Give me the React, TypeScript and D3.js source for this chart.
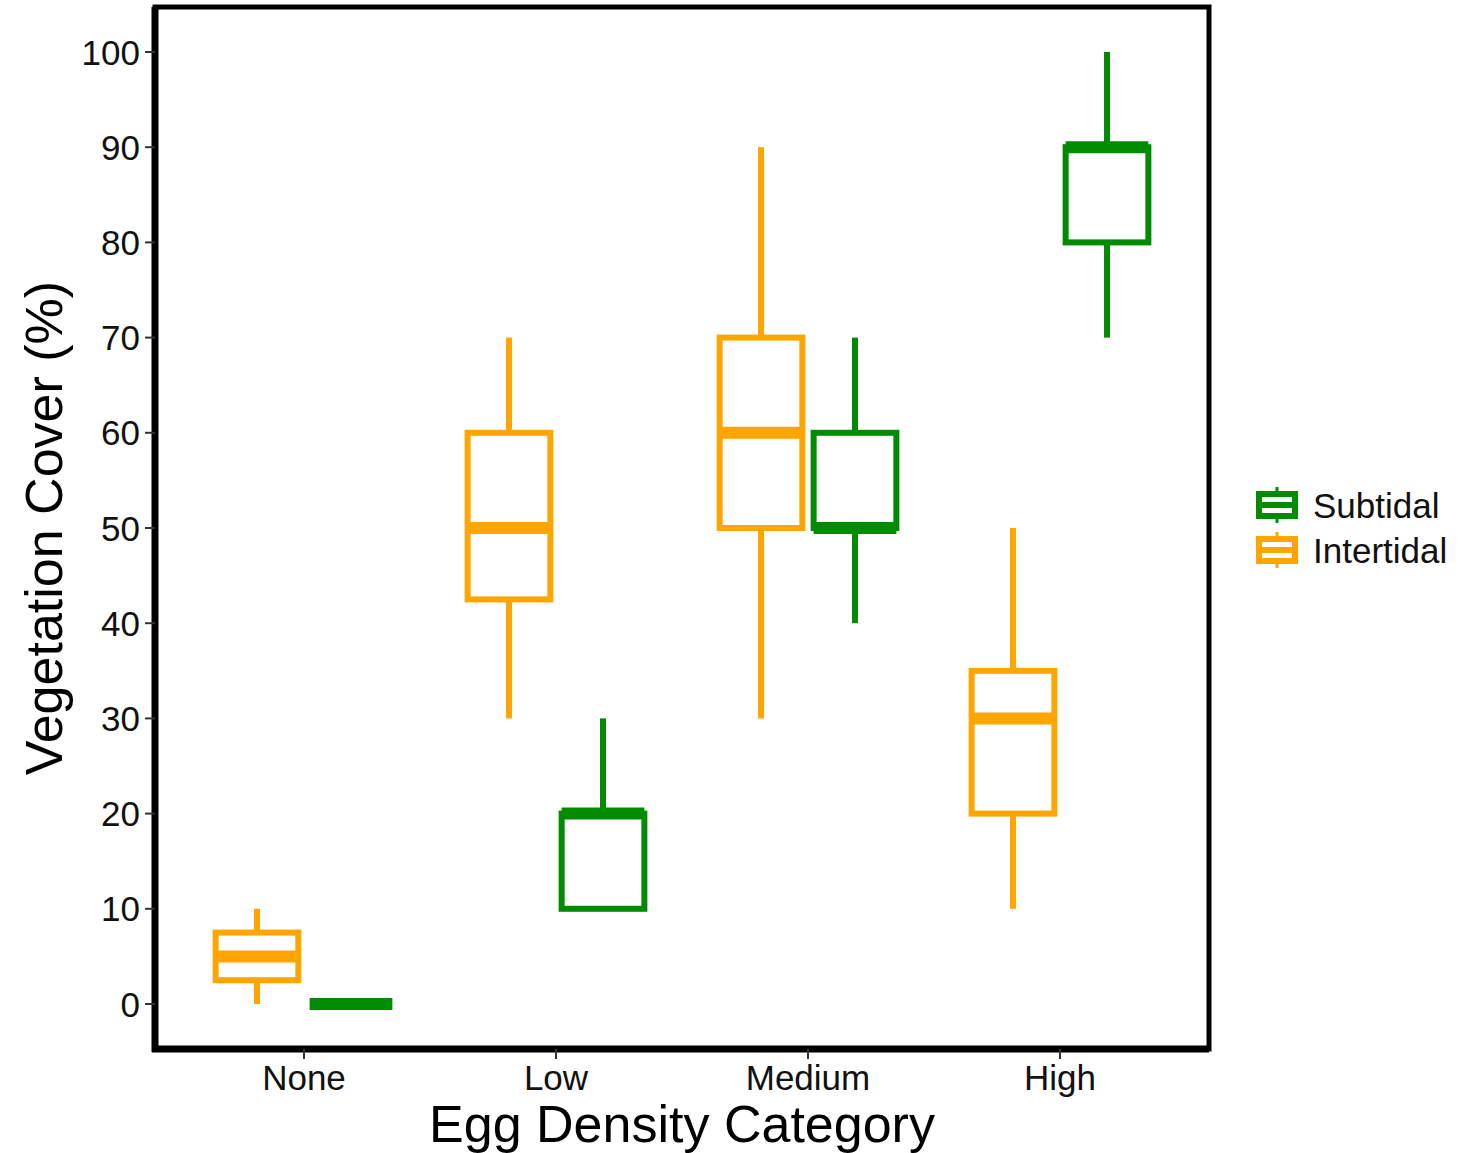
import React from "react";
import * as d3 from "d3";

const categories = ["None", "Low", "Medium", "High"];
const groups = ["Intertidal", "Subtidal"];
const legendOrder = ["Subtidal", "Intertidal"];
const yTicks = [0, 10, 20, 30, 40, 50, 60, 70, 80, 90, 100];

// [category, min, q1, median, q3, max]
const intertidalStats = [
  ["None", 0, 2.5, 5, 7.5, 10],
  ["Low", 30, 42.5, 50, 60, 70],
  ["Medium", 30, 50, 60, 70, 90],
  ["High", 10, 20, 30, 35, 50],
];
const subtidalStats = [
  ["None", 0, 0, 0, 0, 0],
  ["Low", 10, 10, 20, 20, 30],
  ["Medium", 40, 50, 50, 60, 70],
  ["High", 70, 80, 90, 90, 100],
];

const colors: Record<string, string> = {
  Intertidal: "#FFA500",
  Subtidal: "#008B00",
};

const W = 1481;
const H = 1153;
const panel = { left: 155, right: 1209, top: 7, bottom: 1049 };
const font = "'Liberation Sans', Arial, sans-serif";

export default function App() {
  const y = d3.scaleLinear().domain([0, 100]).range([1004, 52]);
  const x = d3.scalePoint().domain(categories).range([304, 1060]);
  const sub = d3.scaleBand().domain(groups).range([-94, 94]);

  const boxes = [
    ...intertidalStats.map((s) => ({ group: "Intertidal", s })),
    ...subtidalStats.map((s) => ({ group: "Subtidal", s })),
  ];

  return (
    <svg
      width={W}
      height={H}
      style={{ position: "absolute", left: 0, top: 0, background: "#fff" }}
      fontFamily={font}
    >
      {/* boxes */}
      {boxes.map(({ group, s }, i) => {
        const [cat, mn, q1, med, q3, mx] = s as [string, number, number, number, number, number];
        const cx = (x(cat) as number) + (sub(group) as number) + sub.bandwidth() / 2;
        const w = sub.bandwidth() * 0.88;
        const x0 = cx - w / 2;
        const c = colors[group];
        return (
          <g key={i} stroke={c} fill="none">
            <line x1={cx} x2={cx} y1={y(mx)} y2={y(q3)} strokeWidth={6} />
            <line x1={cx} x2={cx} y1={y(mn)} y2={y(q1)} strokeWidth={6} />
            <rect x={x0} y={y(q3)} width={w} height={y(q1) - y(q3)} strokeWidth={6} fill="#fff" />
            <line x1={x0} x2={x0 + w} y1={y(med)} y2={y(med)} strokeWidth={12} />
          </g>
        );
      })}

      {/* panel border */}
      <rect
        x={panel.left}
        y={panel.top}
        width={panel.right - panel.left}
        height={panel.bottom - panel.top}
        fill="none"
        stroke="#000"
        strokeWidth={5}
      />
      <line x1={panel.left} x2={panel.left} y1={panel.top} y2={panel.bottom + 3} stroke="#000" strokeWidth={7} />
      <line x1={panel.left - 3} x2={panel.right} y1={panel.bottom} y2={panel.bottom} stroke="#000" strokeWidth={7} />

      {/* y axis */}
      {yTicks.map((t) => (
        <g key={t}>
          <line x1={panel.left - 10} x2={panel.left} y1={y(t)} y2={y(t)} stroke="#333" strokeWidth={2} />
          <text x={panel.left - 15} y={y(t)} dy="0.36em" textAnchor="end" fontSize={35} fill="#111">
            {t}
          </text>
        </g>
      ))}

      {/* x axis */}
      {categories.map((c) => {
        const cx = x(c) as number;
        return (
          <g key={c}>
            <line x1={cx} x2={cx} y1={panel.bottom} y2={panel.bottom + 10} stroke="#333" strokeWidth={2} />
            <text x={cx} y={1090} textAnchor="middle" fontSize={35} fill="#111">
              {c}
            </text>
          </g>
        );
      })}

      <text x={682} y={1142} textAnchor="middle" fontSize={52} fill="#000">
        Egg Density Category
      </text>
      <text
        transform={`translate(62,528) rotate(-90)`}
        textAnchor="middle"
        fontSize={52}
        fill="#000"
      >
        Vegetation Cover (%)
      </text>

      {/* legend */}
      {legendOrder.map((g, i) => {
        const ky = 505 + i * 45;
        const c = colors[g];
        return (
          <g key={g}>
            <line x1={1277} x2={1277} y1={ky - 18} y2={ky + 18} stroke={c} strokeWidth={3} />
            <rect x={1259} y={ky - 11} width={36} height={22} fill="#fff" stroke={c} strokeWidth={6} />
            <line x1={1259} x2={1295} y1={ky} y2={ky} stroke={c} strokeWidth={6} />
            <text x={1313} y={ky} dy="0.36em" fontSize={35} fill="#111">
              {g}
            </text>
          </g>
        );
      })}
    </svg>
  );
}
